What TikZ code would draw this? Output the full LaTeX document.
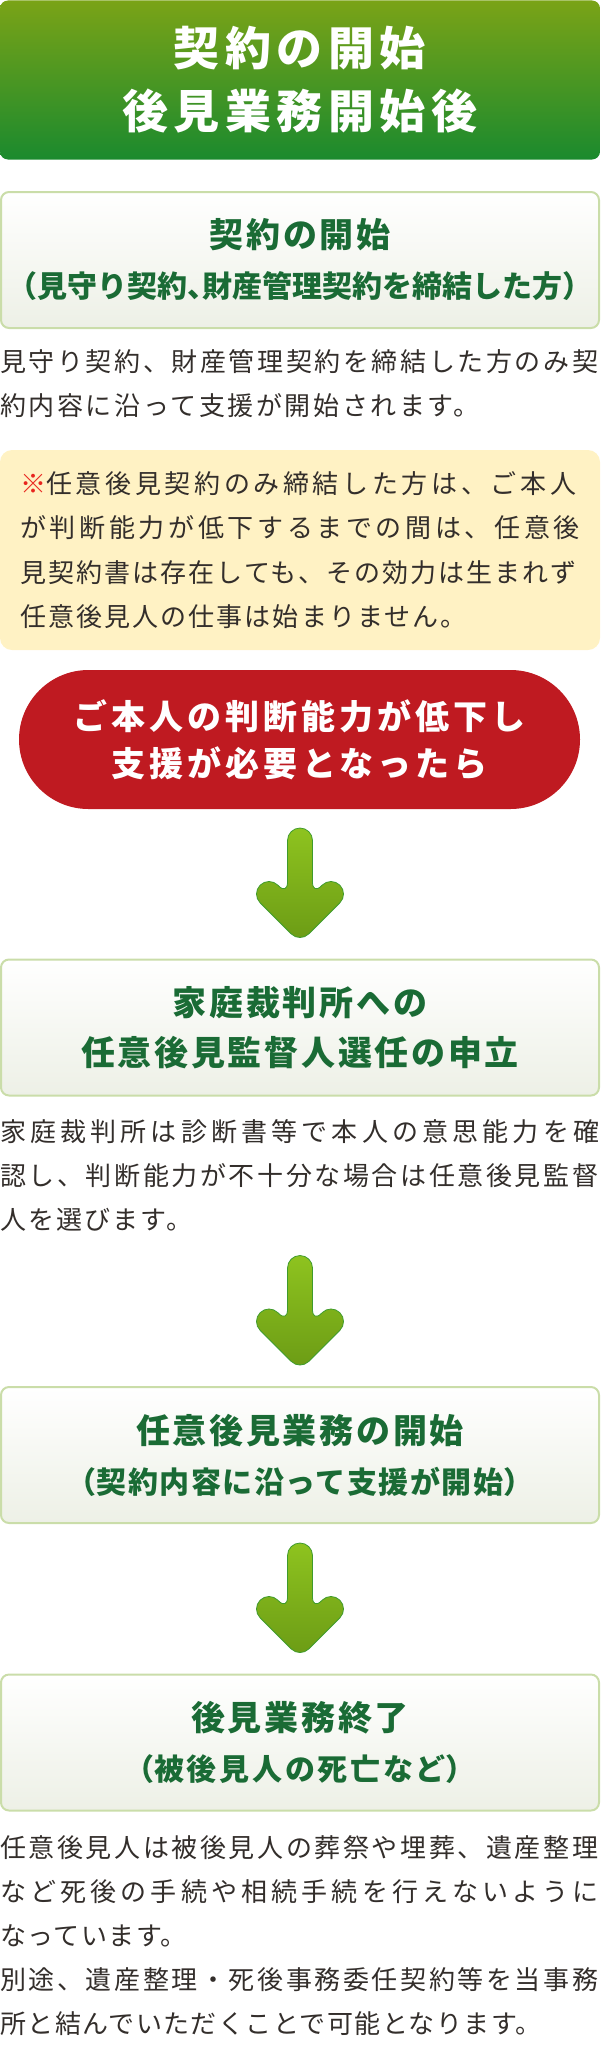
\documentclass[tikz,border=0pt]{standalone}
\usepackage{fontspec}
\setmainfont{Noto Sans CJK JP}
\usetikzlibrary{shapes.misc,positioning}

\definecolor{titletop}{HTML}{7AA317}
\definecolor{titlebot}{HTML}{1B8A2E}
\definecolor{boxedge}{HTML}{CADDA9}
\definecolor{boxbot}{HTML}{EDF0E6}
\definecolor{headgreen}{HTML}{1A6B35}
\definecolor{bodytext}{HTML}{332E2B}
\definecolor{notefill}{HTML}{FFF2C4}
\definecolor{kome}{HTML}{E8251E}
\definecolor{pillred}{HTML}{BF1A21}
\definecolor{arrowtop}{HTML}{8EC31F}
\definecolor{arrowbot}{HTML}{6B9B15}
\definecolor{arrowedge}{HTML}{3E9B2C}

% half-width brackets and comma
\newcommand\kakkoL{\makebox[0.5em][r]{（}}
\newcommand\kakkoR{\makebox[0.5em][l]{）}}
\newcommand\tenH{\makebox[0.5em][l]{、}}
\newcommand\subline[1]{\fontsize{30}{50}\selectfont\addfontfeatures{LetterSpace=#1}}
% one line with its own tracking
\newcommand\track[2]{{\addfontfeatures{LetterSpace=#1}#2}}

\begin{document}
\begin{tikzpicture} [
                x=1pt, y=1pt,
                titlebox/.style = {rectangle, rounded corners=8pt, inner sep=0pt,
                    minimum width=600pt, minimum height=159pt,
                    top color=titletop, bottom color=titlebot, text=white, align=center,
                    font=\bfseries\fontsize{46}{63}\selectfont\addfontfeatures{LetterSpace=12}},
                stepbox/.style = {rectangle, rounded corners=8pt, inner sep=0pt,
                    draw=boxedge, line width=2pt, minimum width=598pt, minimum height=136pt,
                    top color=white, bottom color=boxbot, text=headgreen, align=center,
                    font=\bfseries\fontsize{34}{50}\selectfont\addfontfeatures{LetterSpace=8}},
                notebox/.style = {rectangle, rounded corners=12pt, inner sep=0pt,
                    fill=notefill, minimum width=600pt, minimum height=200pt,
                    text=bodytext, align=left,
                    font=\fontsize{26}{44.5}\selectfont\addfontfeatures{LetterSpace=14}},
                alert/.style = {rounded rectangle, inner sep=0pt, fill=pillred,
                    minimum width=561pt, minimum height=139pt, text=white, align=center,
                    font=\bfseries\fontsize{34}{47}\selectfont\addfontfeatures{LetterSpace=12}},
                body/.style = {anchor=west, inner sep=0pt, text=bodytext, align=left,
                    font=\fontsize{26}{44}\selectfont\addfontfeatures{LetterSpace=10}},
                greenarrow/.pic = {
                    \path[top color=arrowtop, bottom color=arrowbot, draw=arrowedge,
                          line width=0.8pt, rounded corners=12.5pt]
                        (-12.5,109.5) -- (12.5,109.5) -- (12.5,42.7) -- (31,61.2)
                        -- (48.7,43.5) -- (0,-5.2) -- (-48.7,43.5) -- (-31,61.2)
                        -- (-12.5,42.7) -- cycle;
                },
            ]
            \useasboundingbox (0,0) rectangle (600,-2050);
            % First the boxes
            \node[titlebox] (title) at (300,-80) {契約の開始\\後見業務開始後};
            \node[stepbox] (contract) at (300,-260)
                {契約の開始\\{\subline{0}\kakkoL 見守り契約\tenH 財産管理契約を締結した方\kakkoR}};
            \node[body] (contractnote) at (0,-383.5)
                {見守り契約、財産管理契約を締結した方のみ契\\約内容に沿って支援が開始されます。};
            \node[notebox] (caution) at (300,-550)
                {{\color{kome}※}任意後見契約のみ締結した方は、ご本人\\
                 が判断能力が低下するまでの間は、任意後\\
                 \track{8}{見契約書は存在しても、その効力は生まれず}\\
                 \track{8}{任意後見人の仕事は始まりません。}};
            \node[alert] (decline) at (299.5,-739.5) {ご本人の判断能力が低下し\\支援が必要となったら};
            \node[stepbox] (court) at (300,-1027.5) {家庭裁判所への\\任意後見監督人選任の申立};
            \node[body] (courtnote) at (0,-1175.5)
                {\track{16}{家庭裁判所は診断書等で本人の意思能力を確}\\
                 認し、判断能力が不十分な場合は任意後見監督\\
                 \track{8}{人を選びます。}};
            \node[stepbox] (duties) at (300,-1455)
                {任意後見業務の開始\\{\subline{5}\kakkoL 契約内容に沿って支援が開始\kakkoR}};
            \node[stepbox] (finish) at (300,-1742.5)
                {後見業務終了\\{\subline{9}\kakkoL 被後見人の死亡など\kakkoR}};
            \node[body] (finishnote) at (0,-1935.8)
                {任意後見人は被後見人の葬祭や埋葬、遺産整理\\
                 \track{16}{など死後の手続や相続手続を行えないように}\\
                 \track{5.5}{なっています。}\\
                 別途、遺産整理・死後事務委任契約等を当事務\\
                 \track{5.5}{所と結んでいただくことで可能となります。}};
            % Arrows down to each step
            \foreach \target in {court, duties, finish}
                \pic at ([yshift=21pt]\target.north) {greenarrow};
        \end{tikzpicture}
\end{document}
